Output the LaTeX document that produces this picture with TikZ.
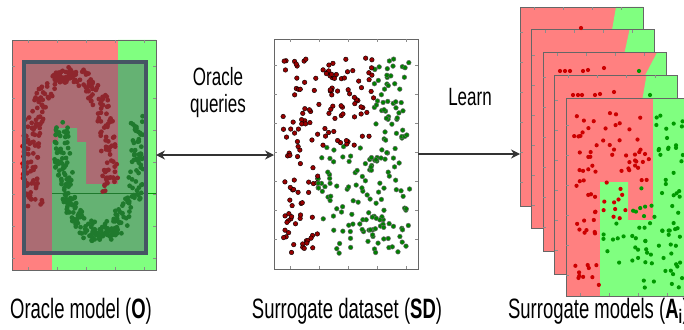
\documentclass[tikz,border=0pt]{standalone}
\usepackage{fontspec}
\setmainfont{Liberation Sans}
\usetikzlibrary{arrows.meta,positioning}

\definecolor{lightred}{RGB}{255,128,128}
\definecolor{lightgreen}{RGB}{128,255,128}
\definecolor{slate}{RGB}{70,85,100}

\tikzstyle{panelbox} = [inner sep=0pt, outer sep=0pt, anchor=north west]
\tikzstyle{frame} = [draw=black!60, line width=0.6pt]
\tikzstyle{tick} = [draw=black!45, line width=0.5pt]
\tikzstyle{dot0} = [fill=red!80!black]
\tikzstyle{dot1} = [fill=green!60!black]
\tikzstyle{ring0} = [fill=red!60!black]
\tikzstyle{ring1} = [fill=green!50!black, draw=black!60, line width=0.5pt]
\tikzstyle{caption} = [font=\fontsize{28}{30}\selectfont, xscale=0.66, inner sep=0pt]
\tikzstyle{arrowlabel} = [font=\fontsize{25}{27}\selectfont, xscale=0.68, align=center, inner sep=0pt]
\tikzstyle{arrowdecorate} = [line width=1.4pt, black!80]

\begin{document}
\begin{tikzpicture}[x=1pt, y=-1pt]
    \useasboundingbox (0,0) rectangle (684,329);
    \pgfmathsetseed{12}

    %% oracle model
    \node[panelbox, minimum width=144pt, minimum height=230pt] (oracle) at (12,40) {};
    \fill[lightred] (oracle.north west) rectangle (oracle.south east);
    \fill[lightgreen] (156,40) -- (118,40) -- (118,184) -- (86,184) -- (86,142) -- (77,142)
      -- (77,128) -- (58,128) -- (58,142) -- (52,142) -- (52,270) -- (156,270) -- cycle;
    \draw[green!60!black, line width=0.8pt] (52,193) -- (156,193);
    \foreach \i in {1,...,260}
    {
      \pgfmathsetmacro\a{rnd*230-20}
      \pgfmathsetmacro\px{70+40*cos(\a)+8*rand}
      \pgfmathsetmacro\py{160-85*sin(\a)+8*rand}
      \fill[dot0] (\px,\py) circle (2.4pt);
    }
    \foreach \i in {1,...,260}
    {
      \pgfmathsetmacro\a{rnd*210+165}
      \pgfmathsetmacro\px{100+38*cos(\a)+8*rand}
      \pgfmathsetmacro\py{145-90*sin(\a)+8*rand}
      \fill[dot1] (\px,\py) circle (2.4pt);
    }
    \fill[slate, opacity=0.45] (24,62) rectangle (146,253);
    \draw[slate, line width=4pt] (24,62) rectangle (146,253);
    \draw[frame] (oracle.north west) rectangle (oracle.south east);
    \foreach \t in {28,57,86,115,144}
      \draw[tick] (\t,40) -- ++(0,3) (\t,270) -- ++(0,-3);
    \foreach \t in {66,98,130,162,194,226,258}
      \draw[tick] (12,\t) -- ++(3,0) (156,\t) -- ++(-3,0);

    %% surrogate dataset
    \node[panelbox, minimum width=144pt, minimum height=230pt, fill=white] (dataset) at (274,39) {};
    \foreach \i in {1,...,330}
    {
      \pgfmathsetmacro\px{283+rnd*127}
      \pgfmathsetmacro\py{58+rnd*196}
      \pgfmathtruncatemacro\side{or(\px>374, and(\py>146, \px>318))}
      \filldraw[ring\side] (\px,\py) circle (2.3pt);
    }
    \draw[frame] (dataset.north west) rectangle (dataset.south east);
    \foreach \t in {290,319,348,377,406}
      \draw[tick] (\t,39) -- ++(0,3) (\t,269) -- ++(0,-3);
    \foreach \t in {65,94,123,152,181,210,239}
      \draw[tick] (274,\t) -- ++(3,0) (418,\t) -- ++(-3,0);

    %% surrogate models, back ones
    \foreach \k/\gtop/\gbot in {0/96/92, 1/98/93, 2/114/102, 3/92/88}
    {
      \pgfmathsetmacro\xo{520+11.5*\k}
      \pgfmathsetmacro\yo{7+22.75*\k}
      \node[panelbox, minimum width=123pt, minimum height=199pt] (m\k) at (\xo,\yo) {};
      \fill[lightred] (m\k.north west) rectangle (m\k.south east);
      \fill[lightgreen] (\xo+\gtop,\yo) -- (\xo+123,\yo) -- (\xo+123,\yo+46)
        -- (\xo+2*\gbot-\gtop,\yo+46) -- cycle;
      \draw[frame] (m\k.north west) rectangle (m\k.south east);
      \foreach \t in {14,43,72,101}
        \draw[tick] (\xo+\t,\yo) -- ++(0,3);
      \foreach \t in {25,55,85,115,145,175}
        \draw[tick] (\xo,\yo+\t) -- ++(3,0);
    }
    \foreach \px/\py/\side in {581/28/0, 560/71/0, 565/71/0, 570/71/0, 583/71/0, 588/70/0, 604/68/0,
      639/71/1, 573/95/0, 578/95/0, 582/95/0, 595/95/0, 600/94/0, 614/92/0, 650/95/1}
      \fill[dot\side] (\px,\py) circle (2.1pt);

    %% surrogate models, front one
    \node[panelbox, minimum width=123pt, minimum height=198pt] (m4) at (566,98) {};
    \fill[lightred] (m4.north west) rectangle (m4.south east);
    \fill[lightgreen] (653,98) -- (689,98) -- (689,296) -- (600,296) -- (600,182)
      -- (628,182) -- (628,220) -- (653,220) -- cycle;
    \foreach \i in {1,...,170}
    {
      \pgfmathsetmacro\px{573+rnd*111}
      \pgfmathsetmacro\py{112+rnd*176}
      \pgfmathtruncatemacro\side{or(\px>653, and(\py>183, and(\px>601, not(and(\px<628, \py<220)))))}
      \fill[dot\side] (\px,\py) circle (2.1pt);
    }
    \draw[frame] (m4.north west) rectangle (m4.south east);
    \foreach \t in {580,609,638,667}
      \draw[tick] (\t,296) -- ++(0,-3);
    \foreach \t in {125,155,185,215,245,275}
      \draw[tick] (566,\t) -- ++(3,0);

    %% arrows and labels
    \draw[arrowdecorate, {Stealth[length=9pt,width=9pt]}-{Stealth[length=9pt,width=9pt]}]
      (oracle.east) -- (oracle.east -| dataset.west);
    \draw[arrowdecorate, -{Stealth[length=9pt,width=9pt]}]
      (dataset.east) -- (dataset.east -| m0.west);
    \node[arrowlabel] (queries) at (218,93) {Oracle\\queries};
    \node[arrowlabel] (learn) at (470,97) {Learn};

    \node[caption, anchor=base] (oraclecap) at (81,318) {Oracle model (\textbf{O})};
    \node[caption, anchor=base] (datasetcap) at (347,318) {Surrogate dataset (\textbf{SD})};
    \node[caption, anchor=base west] (modelscap) at (508,318) {Surrogate models (\textbf{A}\textsubscript{\textbf{i}})};
\end{tikzpicture}
\end{document}
